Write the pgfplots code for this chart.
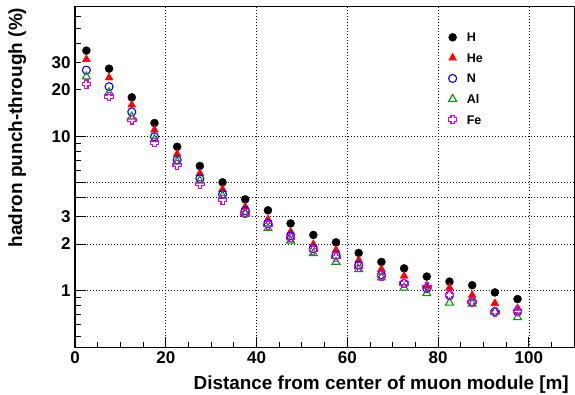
\documentclass[border=0pt]{standalone}
\usepackage{pgfplots}
\pgfplotsset{compat=1.18}
\usepackage{fontspec}
\setmainfont{Liberation Sans}
\usetikzlibrary{calc}
\definecolor{rootgreen}{RGB}{0,153,0}
\definecolor{rootmag}{RGB}{225,0,225}
\definecolor{rootblue}{RGB}{0,0,255}
\definecolor{rootred}{RGB}{255,0,0}

\pgfdeclareplotmark{ocross}{%
  \pgfpathmoveto{\pgfqpoint{-0.38\pgfplotmarksize}{\pgfplotmarksize}}%
  \pgfpathlineto{\pgfqpoint{0.38\pgfplotmarksize}{\pgfplotmarksize}}%
  \pgfpathlineto{\pgfqpoint{0.38\pgfplotmarksize}{0.38\pgfplotmarksize}}%
  \pgfpathlineto{\pgfqpoint{\pgfplotmarksize}{0.38\pgfplotmarksize}}%
  \pgfpathlineto{\pgfqpoint{\pgfplotmarksize}{-0.38\pgfplotmarksize}}%
  \pgfpathlineto{\pgfqpoint{0.38\pgfplotmarksize}{-0.38\pgfplotmarksize}}%
  \pgfpathlineto{\pgfqpoint{0.38\pgfplotmarksize}{-\pgfplotmarksize}}%
  \pgfpathlineto{\pgfqpoint{-0.38\pgfplotmarksize}{-\pgfplotmarksize}}%
  \pgfpathlineto{\pgfqpoint{-0.38\pgfplotmarksize}{-0.38\pgfplotmarksize}}%
  \pgfpathlineto{\pgfqpoint{-\pgfplotmarksize}{-0.38\pgfplotmarksize}}%
  \pgfpathlineto{\pgfqpoint{-\pgfplotmarksize}{0.38\pgfplotmarksize}}%
  \pgfpathlineto{\pgfqpoint{-0.38\pgfplotmarksize}{0.38\pgfplotmarksize}}%
  \pgfpathclose
  \pgfusepathqstroke
}

\pgfplotstableread{
x     H      He     N      Al     Fe
2.5   36.0   31.6   26.9   24.4   21.8
7.5   27.5   24.0   21.0   19.3   18.1
12.5  17.9   16.0   14.4   13.4   12.8
17.5  12.2   11.0   9.94   9.56   9.1
22.5  8.56   7.68   7.02   6.84   6.51
27.5  6.42   5.75   5.31   5.15   4.88
32.5  5.03   4.53   4.20   4.11   3.86
37.5  3.90   3.49   3.29   3.13   3.16
42.5  3.31   2.89   2.72   2.53   2.65
47.5  2.72   2.40   2.26   2.10   2.20
52.5  2.29   1.99   1.87   1.74   1.83
57.5  2.05   1.83   1.69   1.53   1.64
62.5  1.75   1.57   1.46   1.37   1.42
67.5  1.53   1.37   1.26   1.21   1.24
72.5  1.39   1.24   1.11   1.04   1.11
77.5  1.23   1.07   1.03   0.957  1.05
82.5  1.14   1.04   0.93   0.83   0.93
87.5  1.08   0.93   0.843  0.82   0.843
92.5  0.97   0.824  0.726  0.726  0.726
97.5  0.878  0.764  0.726  0.668  0.737
}\datatable

\begin{document}
\begin{tikzpicture}
\begin{axis}[
  name=ax,
  width=499bp, height=340.6bp, scale only axis,
  xmin=0, xmax=110,
  ymode=log, ymin=0.426, ymax=69.4,
  axis line style={line width=1.3bp},
  xtick={0,20,40,60,80,100},
  minor xtick={5,10,15,25,30,35,45,50,55,65,70,75,85,90,95,105},
  xtick pos=bottom, ytick pos=left,
  ytick={1,2,3,4,5,10},
  yticklabels={1,2,3,,,10},
  minor ytick={0.5,0.6,0.7,0.8,0.9,6,7,8,9,40,50,60},
  extra y ticks={20,30},
  extra y tick labels={20,30},
  extra y tick style={grid=none, major tick length=6bp},
  xmajorgrids, ymajorgrids,
  major grid style={black, line width=0.8bp, dash pattern=on 0.9bp off 2.1bp},
  major tick length=11bp, minor tick length=6bp,
  every tick/.style={black, line width=1bp},
  /pgf/number format/assume math mode=true,
  tick label style={font=\fontsize{17bp}{19bp}\selectfont\bfseries},
  xticklabel style={yshift=-1bp},
  yticklabel style={xshift=-1bp},
  legend style={draw=none, fill=none, inner sep=0pt,
    at={(axis description cs:0.7475,0.924)}, anchor=north west,
    font=\fontsize{12.5bp}{14bp}\selectfont\bfseries,
    nodes={inner sep=0pt, text height=9bp, text depth=0bp},
    row sep=11.5bp, column sep=10bp},
  legend cell align=left,
  legend image code/.code={\draw[#1] plot coordinates {(0bp,0bp)};},
  clip=false,
]
\addplot[only marks, mark=*, mark size=4bp, black, mark options={fill=black}] table[x=x,y=H] {\datatable};
\addlegendentry{H}
\addplot[only marks, mark=triangle*, mark size=4.6bp, rootred, mark options={fill=rootred}] table[x=x,y=He] {\datatable};
\addlegendentry{He}
\addplot[only marks, mark=o, mark size=4bp, rootblue, mark options={line width=1.1bp}] table[x=x,y=N] {\datatable};
\addlegendentry{N}
\addplot[only marks, mark=triangle, mark size=4.6bp, rootgreen, mark options={line width=1.1bp}] table[x=x,y=Al] {\datatable};
\addlegendentry{Al}
\addplot[only marks, mark=ocross, mark size=4.2bp, rootmag, mark options={line width=1.1bp}] table[x=x,y=Fe] {\datatable};
\addlegendentry{Fe}
\end{axis}
\node[font=\fontsize{18.9bp}{21bp}\selectfont\bfseries, anchor=base east] at ($(ax.south east)+(-2bp,-42bp)$) {Distance from center of muon module [m]};
\node[font=\fontsize{19bp}{21bp}\selectfont\bfseries, rotate=90, anchor=base east] at ($(ax.north west)+(-53bp,2.5bp)$) {hadron punch-through (\%)};
\pgfresetboundingbox
\path ($(ax.south west)+(-75bp,-46.7bp)$) rectangle ($(ax.north east)+(0.7bp,6.7bp)$);
\end{tikzpicture}
\end{document}
